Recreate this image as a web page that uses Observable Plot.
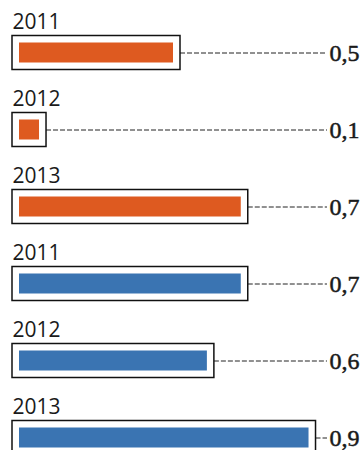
<!DOCTYPE html>
<html>
<head>
<meta charset="utf-8">
<script src="https://cdn.jsdelivr.net/npm/d3@7"></script>
<script src="https://cdn.jsdelivr.net/npm/@observablehq/plot@0.6"></script>
<style>
  html, body { margin: 0; padding: 0; background: #ffffff; overflow: hidden; }
</style>
</head>
<body>
<div id="chart"></div>
<script>
const groups = ["A", "A", "A", "B", "B", "B"];
const years = ["2011", "2012", "2013", "2011", "2012", "2013"];
const values = [0.50, 0.065, 0.72, 0.72, 0.61, 0.94];

const groupDomain = ["A", "B"];
const groupColors = ["#de5a20", "#3a74b2"];
const xMax = 1;

const data = years.map((year, i) => ({
  key: groups[i] + "-" + year,
  group: groups[i],
  year,
  value: values[i],
  label: d3.format(".1f")(values[i]).replace(".", ",")
}));

const chart = Plot.plot({
  width: 362,
  height: 450,
  marginLeft: 19,
  marginRight: 35,
  marginTop: 13.5,
  marginBottom: -25.5,
  style: { background: "#ffffff", overflow: "hidden" },
  x: { domain: [0, xMax], axis: null },
  y: { domain: data.map(d => d.key), axis: null, padding: 0 },
  color: { domain: groupDomain, range: groupColors },
  marks: [
    Plot.ruleY(data, {
      y: "key", x1: "value", x2: () => xMax,
      stroke: "#222", strokeWidth: 1, strokeDasharray: "5,2"
    }),
    Plot.barX(data, {
      y: "key", x: "value",
      insetLeft: -7, insetRight: -7, insetTop: 21.5, insetBottom: 21.5,
      fill: "white", stroke: "#111", strokeWidth: 1.5
    }),
    Plot.barX(data, {
      y: "key", x: "value",
      insetTop: 28.5, insetBottom: 28.5,
      fill: "group"
    }),
    Plot.text(data, {
      y: "key", text: "year",
      frameAnchor: "left", textAnchor: "start", lineAnchor: "bottom",
      dx: -7, dy: -24,
      fontFamily: "Open Sans", fontSize: 21, fill: "#1a1a1a"
    }),
    Plot.text(data, {
      y: "key", text: "label",
      frameAnchor: "right", textAnchor: "start", lineAnchor: "middle",
      dx: 2, dy: 0,
      fontFamily: "Liberation Serif", fontSize: 24, fill: "#1a1a1a",
      stroke: "#1a1a1a", strokeWidth: 0.5
    })
  ]
});
document.getElementById("chart").append(chart);
</script>
</body>
</html>
